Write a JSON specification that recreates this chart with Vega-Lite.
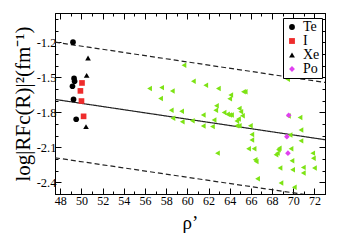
{
  "$schema": "https://vega.github.io/schema/vega-lite/v6.json",
  "width": 270,
  "height": 181,
  "autosize": {"type": "none"},
  "padding": {"left": 55, "top": 13, "right": 15, "bottom": 49},
  "background": "white",
  "config": {
    "view": {"stroke": "black", "strokeWidth": 1},
    "axis": {"grid": false, "domainColor": "black", "tickColor": "black", "labelColor": "black", "titleColor": "black", "labelFont": "Liberation Serif", "titleFont": "Liberation Serif", "titleFontWeight": "normal", "labelFlush": false, "labelOverlap": false}
  },
  "datasets": {
    "lines": [
      {"x": 47.5, "y": -1.2, "x2": 73, "y2": -1.545, "kind": "dashed"},
      {"x": 47.5, "y": -1.69, "x2": 73, "y2": -2.035, "kind": "solid"},
      {"x": 47.5, "y": -2.19, "x2": 73, "y2": -2.53, "kind": "dashed"}
    ],
    "green": [
      {"rho": 56.43, "val": -1.597}, {"rho": 57.57, "val": -1.589}, {"rho": 58.58, "val": -1.617}, {"rho": 57.47, "val": -1.682},
      {"rho": 59.68, "val": -1.398}, {"rho": 60.57, "val": -1.535}, {"rho": 61.74, "val": -1.568}, {"rho": 62.93, "val": -1.597},
      {"rho": 64.1, "val": -1.653}, {"rho": 64.0, "val": -1.685}, {"rho": 65.3, "val": -1.625}, {"rho": 65.46, "val": -1.625},
      {"rho": 58.48, "val": -1.782}, {"rho": 59.46, "val": -1.791}, {"rho": 58.64, "val": -1.852}, {"rho": 59.52, "val": -1.881},
      {"rho": 60.47, "val": -1.872}, {"rho": 61.5, "val": -1.824}, {"rho": 61.5, "val": -1.918}, {"rho": 62.37, "val": -1.923},
      {"rho": 62.52, "val": -1.866}, {"rho": 62.75, "val": -1.745}, {"rho": 62.68, "val": -1.782}, {"rho": 63.47, "val": -1.802},
      {"rho": 63.79, "val": -1.818}, {"rho": 64.0, "val": -1.824}, {"rho": 64.17, "val": -1.824}, {"rho": 64.9, "val": -1.767},
      {"rho": 65.05, "val": -1.796}, {"rho": 65.2, "val": -1.83}, {"rho": 64.83, "val": -1.858}, {"rho": 64.67, "val": -1.875},
      {"rho": 64.67, "val": -1.915}, {"rho": 64.9, "val": -1.915}, {"rho": 65.95, "val": -1.916}, {"rho": 66.09, "val": -1.99},
      {"rho": 66.09, "val": -2.037}, {"rho": 65.78, "val": -2.113}, {"rho": 66.3, "val": -2.113}, {"rho": 66.4, "val": -2.207},
      {"rho": 66.5, "val": -2.222}, {"rho": 66.63, "val": -2.369}, {"rho": 62.84, "val": -2.15}, {"rho": 68.6, "val": -2.122},
      {"rho": 68.5, "val": -2.15}, {"rho": 68.37, "val": -2.164}, {"rho": 68.68, "val": -2.108}, {"rho": 68.75, "val": -2.278},
      {"rho": 68.84, "val": -2.405}, {"rho": 69.7, "val": -1.994}, {"rho": 69.79, "val": -2.113}, {"rho": 69.88, "val": -2.215},
      {"rho": 69.94, "val": -2.292}, {"rho": 70.1, "val": -2.443}, {"rho": 70.73, "val": -1.952}, {"rho": 70.73, "val": -2.045},
      {"rho": 70.95, "val": -2.272}, {"rho": 70.95, "val": -2.32}, {"rho": 71.84, "val": -2.15}, {"rho": 71.9, "val": -2.193},
      {"rho": 72.0, "val": -2.278}, {"rho": 69.47, "val": -1.518}, {"rho": 69.55, "val": -1.832}, {"rho": 70.64, "val": -1.844}
    ],
    "species": [
      {"rho": 49.2, "val": -1.2, "sp": "Te"}, {"rho": 49.3, "val": -1.51, "sp": "Te"}, {"rho": 49.35, "val": -1.535, "sp": "Te"},
      {"rho": 49.15, "val": -1.577, "sp": "Te"}, {"rho": 49.25, "val": -1.69, "sp": "Te"}, {"rho": 49.5, "val": -1.86, "sp": "Te"},
      {"rho": 50.05, "val": -1.549, "sp": "I"}, {"rho": 49.9, "val": -1.617, "sp": "I"}, {"rho": 50.0, "val": -1.704, "sp": "I"}, {"rho": 50.2, "val": -1.835, "sp": "I"},
      {"rho": 50.62, "val": -1.335, "sp": "Xe"}, {"rho": 50.49, "val": -1.484, "sp": "Xe"}, {"rho": 50.43, "val": -1.923, "sp": "Xe"},
      {"rho": 69.57, "val": -1.826, "sp": "Po"}, {"rho": 69.4, "val": -2.009, "sp": "Po"}, {"rho": 69.5, "val": -2.15, "sp": "Po"}
    ]
  },
  "resolve": {"scale": {"x": "independent", "y": "independent"}, "axis": {"x": "independent", "y": "independent"}},
  "layer": [
    {
      "data": {"name": "lines"},
      "mark": {"type": "rule", "clip": true, "color": "#222", "strokeWidth": 1.2},
      "encoding": {
        "x": {"field": "x", "type": "quantitative", "scale": {"domain": [47.5, 73], "nice": false, "zero": false},
          "axis": {"orient": "bottom", "values": [48,49,50,51,52,53,54,55,56,57,58,59,60,61,62,63,64,65,66,67,68,69,70,71,72,73],
            "labelExpr": "datum.value % 2 == 0 ? datum.label : ''",
            "tickSize": {"condition": {"test": "datum.value % 2 == 0", "value": -6}, "value": -3},
            "labelFontSize": 12, "labelPadding": 7, "title": "ρ’", "titleFontSize": 19, "titlePadding": 4}},
        "y": {"field": "y", "type": "quantitative", "scale": {"domain": [-2.5, -0.95], "nice": false, "zero": false},
          "axis": {"orient": "left", "values": [-2.5,-2.4,-2.3,-2.2,-2.1,-2.0,-1.9,-1.8,-1.7,-1.6,-1.5,-1.4,-1.3,-1.2,-1.1,-1.0],
            "labelExpr": "abs(round(datum.value*10)) % 3 == 0 ? '-' + format(abs(datum.value), '.1f') : ''",
            "tickSize": {"condition": {"test": "abs(round(datum.value*10)) % 3 == 0", "value": -6}, "value": -3},
            "labelFontSize": 12.5, "labelPadding": 5, "title": "log|RFc(R)|²(fm⁻¹)", "titleFontSize": 21, "titlePadding": 3}},
        "x2": {"field": "x2"},
        "y2": {"field": "y2"},
        "strokeDash": {"field": "kind", "type": "nominal", "scale": {"domain": ["solid", "dashed"], "range": [[1, 0], [5, 3]]}, "legend": null}
      }
    },
    {
      "data": {"name": "green"},
      "mark": {"type": "point", "shape": "triangle-left", "filled": true, "color": "#7de314", "size": 30, "opacity": 1},
      "encoding": {
        "x": {"field": "rho", "type": "quantitative", "scale": {"domain": [47.5, 73], "nice": false, "zero": false},
          "axis": {"orient": "top", "values": [48,49,50,51,52,53,54,55,56,57,58,59,60,61,62,63,64,65,66,67,68,69,70,71,72,73],
            "labels": false, "title": null,
            "tickSize": {"condition": {"test": "datum.value % 2 == 0", "value": -6}, "value": -3}}},
        "y": {"field": "val", "type": "quantitative", "scale": {"domain": [-2.5, -0.95], "nice": false, "zero": false},
          "axis": {"orient": "right", "values": [-2.5,-2.4,-2.3,-2.2,-2.1,-2.0,-1.9,-1.8,-1.7,-1.6,-1.5,-1.4,-1.3,-1.2,-1.1,-1.0],
            "labels": false, "title": null,
            "tickSize": {"condition": {"test": "abs(round(datum.value*10)) % 3 == 0", "value": -6}, "value": -3}}}
      }
    },
    {
      "data": {"name": "species"},
      "mark": {"type": "point", "filled": true, "size": 32, "opacity": 1},
      "encoding": {
        "x": {"field": "rho", "type": "quantitative", "scale": {"domain": [47.5, 73], "nice": false, "zero": false}, "axis": null},
        "y": {"field": "val", "type": "quantitative", "scale": {"domain": [-2.5, -0.95], "nice": false, "zero": false}, "axis": null},
        "color": {"field": "sp", "type": "nominal", "scale": {"domain": ["Te", "I", "Xe", "Po"], "range": ["#000000", "#ee2c2c", "#000000", "#e040f0"]},
          "legend": {"title": null, "orient": "none", "legendX": 228, "legendY": 5, "labelFont": "Liberation Serif", "labelFontSize": 14, "labelColor": "black",
            "strokeColor": "black", "fillColor": "white", "padding": 2, "rowPadding": 0, "symbolSize": 34, "labelOffset": 4}},
        "shape": {"field": "sp", "type": "nominal", "scale": {"domain": ["Te", "I", "Xe", "Po"], "range": ["circle", "square", "triangle-up", "diamond"]}}
      }
    }
  ]
}
